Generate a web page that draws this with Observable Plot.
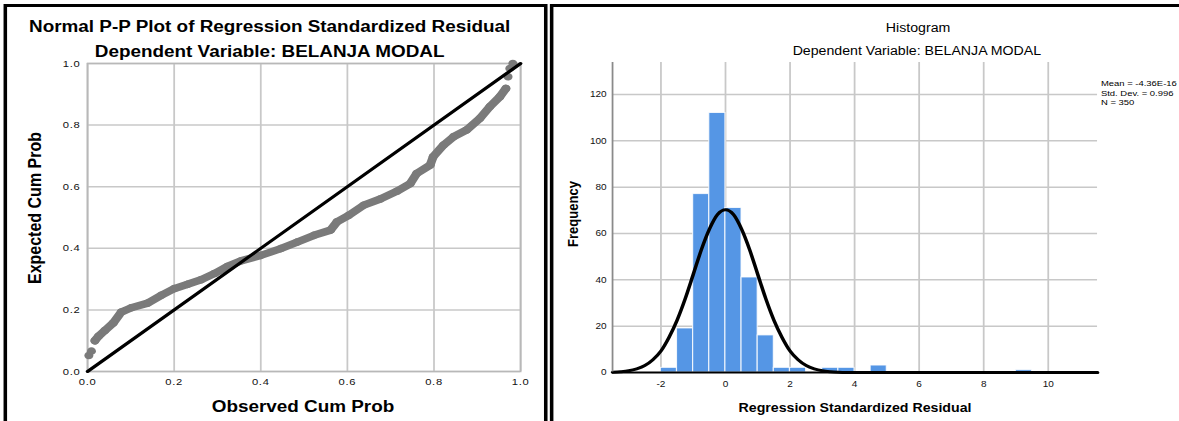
<!DOCTYPE html>
<html>
<head>
<meta charset="utf-8">
<script src="https://cdn.jsdelivr.net/npm/d3@7"></script>
<script src="https://cdn.jsdelivr.net/npm/@observablehq/plot@0.6"></script>
<style>
  html, body { margin: 0; padding: 0; background: #fff; overflow: hidden; }
  body { width: 1179px; height: 421px; position: relative; }
  #wrap { position: absolute; left: 0; top: 0; width: 999px; height: 421px;
          transform: scaleX(1.18); transform-origin: 0 0;
          font-family: "Liberation Sans", Arial, sans-serif; color: #000; }
  .abs { position: absolute; }
  .t { position: absolute; text-align: center; white-space: nowrap; }
  .box { position: absolute; box-sizing: border-box; border: 3px solid #000; pointer-events: none; }
</style>
</head>
<body>
<div id="wrap">
  <div id="left" class="abs" style="left:0;top:0;width:465px;height:421px"></div>
  <div id="right" class="abs" style="left:467px;top:0;width:532px;height:421px"></div>

  <div class="t" style="left:0;width:457px;top:16px;line-height:22px;font-size:16px;font-weight:bold">Normal P-P Plot of Regression Standardized Residual</div>
  <div class="t" style="left:0;width:457px;top:41px;line-height:22px;font-size:16px;font-weight:bold">Dependent Variable: BELANJA MODAL</div>
  <div class="t" style="left:-70.3px;width:200px;top:197px;height:22px;line-height:22px;font-size:16px;font-weight:bold;transform:rotate(-90deg)">Expected Cum Prob</div>
  <div class="t" style="left:156.8px;width:200px;top:396px;line-height:22px;font-size:16px;font-weight:bold">Observed Cum Prob</div>

  <div class="t" style="left:678px;width:200px;top:20px;line-height:16px;font-size:12px">Histogram</div>
  <div class="t" style="left:577px;width:400px;top:43px;line-height:16px;font-size:12px">Dependent Variable: BELANJA MODAL</div>
  <div class="t" style="left:385.6px;width:200px;top:206px;height:16px;line-height:16px;font-size:13px;font-weight:bold;transform:rotate(-90deg)">Frequency</div>
  <div class="t" style="left:574.6px;width:300px;top:400px;line-height:16px;font-size:12px;font-weight:bold">Regression Standardized Residual</div>
  <div class="abs" id="legend" style="left:933px;top:79px;font-size:8px;line-height:9.5px;white-space:nowrap"></div>

  <div class="box" style="left:2.5px;top:4px;width:461.5px;height:440px"></div>
  <div class="box" style="left:466px;top:4px;width:560px;height:440px"></div>
</div>
<script>
// ---------- Normal P-P plot data ----------
const ppObserved = [0.003,0.009,0.017,0.025,0.040,0.059,0.078,0.101,0.139,0.170,0.200,0.231,0.262,0.293,0.323,0.354,0.400,0.446,0.484,0.523,0.561,0.576,0.603,0.638,0.676,0.714,0.745,0.760,0.791,0.798,0.822,0.845,0.875,0.906,0.929,0.952,0.966,0.971,0.975,0.982];
const ppExpected = [0.052,0.066,0.100,0.114,0.133,0.157,0.193,0.207,0.222,0.247,0.269,0.283,0.298,0.318,0.341,0.359,0.377,0.399,0.420,0.442,0.459,0.486,0.507,0.540,0.560,0.585,0.610,0.643,0.670,0.697,0.735,0.762,0.784,0.822,0.860,0.892,0.919,0.957,0.984,1.000];
const ppRun      = ["a","a","b","b","b","b","b","b","b","b","b","b","b","b","b","b","b","b","b","b","b","b","b","b","b","b","b","b","b","b","b","b","b","b","b","b","b","c","c","c"];
const ppTicks = [0, 0.2, 0.4, 0.6, 0.8, 1.0];
const diagonal = [0, 1];

// ---------- Histogram data ----------
const binStart = [-2, -1.5, -1, -0.5, 0, 0.5, 1, 1.5, 2, 3, 3.5, 4.5, 9];
const binCount = [2, 19, 77, 112, 71, 41, 16, 2, 2, 2, 2, 3, 1];
const binWidth = 0.5;
const curveX = [-3.5,-3.25,-3,-2.75,-2.5,-2.25,-2,-1.75,-1.5,-1.25,-1,-0.75,-0.5,-0.25,0,0.25,0.5,0.75,1,1.25,1.5,1.75,2,2.25,2.5,2.75,3,3.25,3.5,3.75,4,5,7,9,11.53];
const curveY = [0.15,0.35,0.75,1.6,3.0,5.5,9.3,15.2,22.6,31.8,42.3,52.9,61.8,68.1,70.2,68.1,61.8,52.9,42.3,31.8,22.6,15.2,9.3,5.5,3.0,1.6,0.75,0.35,0.15,0.05,0.02,0,0,0,0];
const histXTicks = [-2, 0, 2, 4, 6, 8, 10];
const histYTicks = [0, 20, 40, 60, 80, 100, 120];
const legendLines = ["Mean = -4.36E-16", "Std. Dev. = 0.996", "N = 350"];

// ---------- Left: P-P plot ----------
const pp = ppObserved.map((x, i) => ({x, y: ppExpected[i], run: ppRun[i]}));
const gridStyle = {stroke: "#c8c8c8", strokeOpacity: 1, strokeWidth: 1.5};
const left = Plot.plot({
  width: 465, height: 421,
  marginLeft: 73.7, marginRight: 24.3, marginTop: 63, marginBottom: 50,
  x: {domain: [0, 1]},
  y: {domain: [0, 1]},
  style: {fontFamily: "Liberation Sans, Arial, sans-serif", fontSize: "9.5px", letterSpacing: "0.6px", background: "transparent", color: "#111", overflow: "visible"},
  marks: [
    Plot.gridX(ppTicks, gridStyle),
    Plot.gridY(ppTicks, gridStyle),
    Plot.frame({stroke: "#b8b8b8", strokeWidth: 1.5}),
    Plot.line(pp.filter(d => d.run === "b"), {x: "x", y: "y", z: "run", stroke: "#7a7a7a", strokeWidth: 7.5, strokeLinecap: "round", strokeLinejoin: "round"}),
    Plot.dot(pp, {x: "x", y: "y", r: 3.8, fill: "#7a7a7a"}),
    Plot.line(diagonal.map(v => ({v})), {x: "v", y: "v", stroke: "#000", strokeWidth: 3}),
    Plot.axisX(ppTicks, {tickSize: 0, tickPadding: 7, tickFormat: d => d.toFixed(1), label: null}),
    Plot.axisY(ppTicks, {tickSize: 0, tickPadding: 6, tickFormat: d => d.toFixed(1), label: null})
  ]
});
document.getElementById("left").appendChild(left);

// ---------- Right: histogram ----------
const bins = binStart.map((s, i) => ({x1: s, x2: s + binWidth, y: binCount[i]}));
const curve = curveX.map((x, i) => ({x, y: curveY[i]}));
const right = Plot.plot({
  width: 532, height: 421,
  marginLeft: 51.6, marginRight: 69.3, marginTop: 62, marginBottom: 49,
  x: {domain: [-3.5, 11.53]},
  y: {domain: [0, 133.8]},
  style: {fontFamily: "Liberation Sans, Arial, sans-serif", fontSize: "8.5px", background: "transparent", color: "#111", overflow: "visible"},
  marks: [
    Plot.gridX(histXTicks, gridStyle),
    Plot.gridY(histYTicks.filter(d => d > 0), gridStyle),
    Plot.rectY(bins, {x1: "x1", x2: "x2", y: "y", fill: "#5596e5", stroke: "#ffffff", strokeOpacity: 0.8, strokeWidth: 1}),
    Plot.line(curve, {x: "x", y: "y", stroke: "#000", strokeWidth: 3, curve: "monotone-x"}),
    Plot.ruleX([-3.5], {stroke: "#8a8a8a", strokeWidth: 1.5}),
    Plot.ruleY([0], {stroke: "#000", strokeWidth: 2}),
    Plot.axisX(histXTicks, {tickSize: 0, tickPadding: 8, tickFormat: d => String(d), label: null}),
    Plot.axisY(histYTicks, {tickSize: 0, tickPadding: 5, tickFormat: d => String(d), label: null})
  ]
});
document.getElementById("right").appendChild(right);

document.getElementById("legend").innerHTML = legendLines.map(s => `<div>${s}</div>`).join("");
</script>
</body>
</html>
